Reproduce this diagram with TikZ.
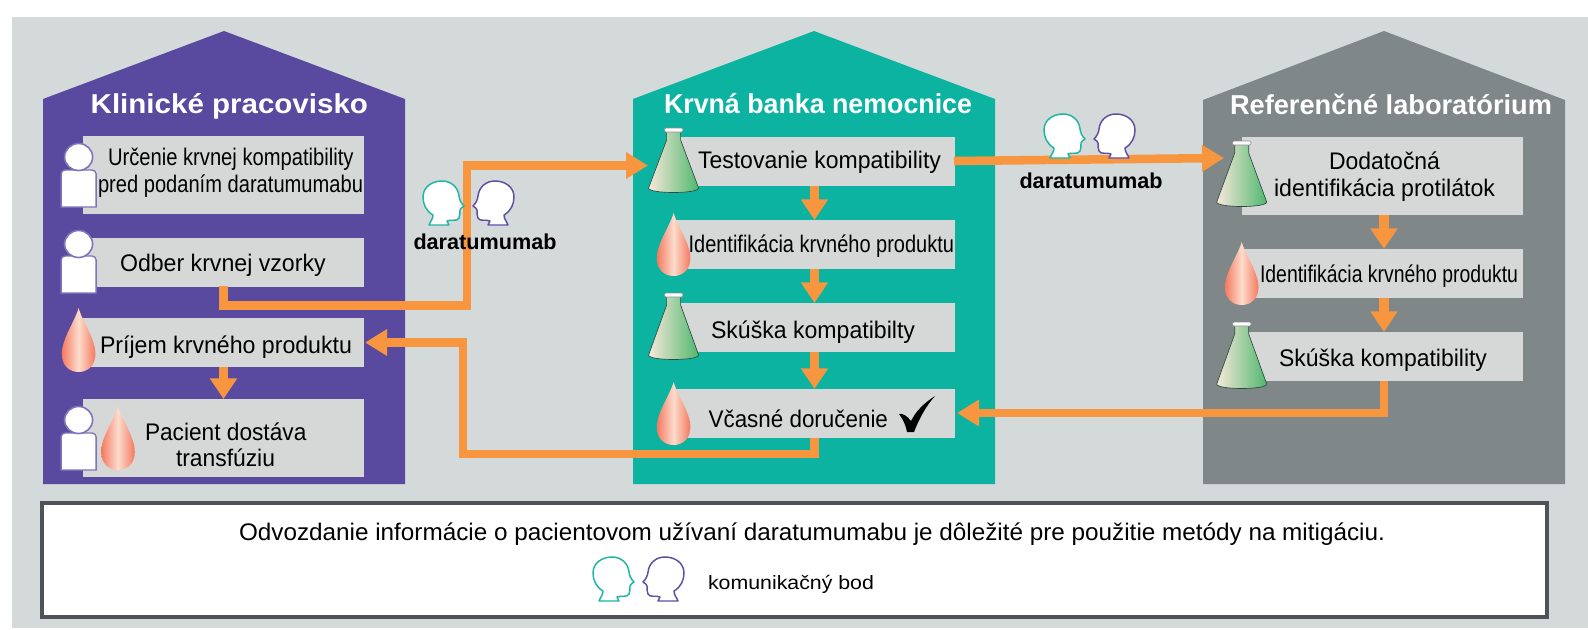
\documentclass[tikz,border=0pt]{standalone}
\usepackage{fontspec}
\usepackage{graphicx}
\setmainfont{Liberation Sans}
\usetikzlibrary{arrows.meta,calc}
\definecolor{bgc}{HTML}{D4D9D9}
\definecolor{boxc}{HTML}{D6D8D8}
\definecolor{purp}{HTML}{5A4A9F}
\definecolor{teal2}{HTML}{0DB3A1}
\definecolor{gry}{HTML}{7F8789}
\definecolor{orng}{HTML}{F8963F}
\definecolor{pline}{HTML}{7F73BA}
\definecolor{hteal}{HTML}{1DB5A3}
\definecolor{hpurp}{HTML}{5F4FA3}
\definecolor{frame}{HTML}{4D5357}
\definecolor{dropa}{HTML}{F4795F}
\definecolor{dropb}{HTML}{FDDCCC}
\definecolor{flg}{HTML}{4FB86E}
\definecolor{flc}{HTML}{F8E8DA}
\definecolor{flo}{HTML}{2F4A40}
\tikzset{
  x=0.75pt,y=-0.75pt,
  boxn/.style={fill=boxc,draw=none,inner sep=0pt,outer sep=0pt,anchor=north west},
  txt/.style={inner sep=0pt,outer sep=0pt,anchor=base,text=black},
  ttl/.style={inner sep=0pt,outer sep=0pt,anchor=base,text=white},
  flow/.style={draw=orng,line width=6.4pt,line join=miter},
  flowa/.style={flow,-{Triangle[length=16.5pt,width=19pt]}},
  flows/.style={flow,line width=6.8pt,-{Triangle[length=15.5pt,width=19.5pt]}},
}
% fit a text to a width in px
\newsavebox{\fitbox}
\newcommand{\fitw}[3]{\sbox{\fitbox}{\fontsize{#2}{#2}\selectfont #3}%
  \pgfmathsetmacro{\fitr}{((#1)*0.75pt)/\wd\fitbox}\scalebox{\fitr}[1]{\usebox{\fitbox}}}
\newcommand{\bx}[5]{\node[boxn,minimum width={(#4-#2)*0.75pt},minimum height={(#5-#3)*0.75pt}] (#1) at (#2,#3) {};}
\newcommand{\lbl}[5]{\node[txt] (#1) at ({(#2+#3)/2},#4) {\fitw{#3-#2}{18pt}{#5}};}
\newcommand{\ttln}[5]{\node[ttl] (#1) at ({(#2+#3)/2},#4) {\fitw{#3-#2}{20.5pt}{\bfseries #5}};}
\newcommand{\housep}[5]{\fill[#1] (#2,484) -- (#2,#5) -- ({(#2+#3)/2},31) -- (#3,#5) -- (#3,484) -- cycle;}
\newcommand{\person}[3]{% cx, circle cy, body top; body bottom = #3+37
  \fill[white,draw=pline,line width=1pt] ({#1-17.5},#3) [rounded corners=3pt] -- ({#1+17.5},#3) [sharp corners] -- ({#1+17.5},#3+37) -- ({#1-17.5},#3+37) [rounded corners=3pt] -- cycle;
  \fill[white,draw=pline,line width=1.2pt] (#1,#2) ellipse [x radius=14,y radius=13.5];}
\newcommand{\drp}[3]{% cx, top, bottom
  \pgfmathsetmacro{\dh}{#3-#2}
  \shade[left color=dropa,right color=dropa,middle color=dropb]
   (#1,#2) .. controls ({#1+4},{#2+0.22*\dh}) and ({#1+16.8},{#2+0.48*\dh}) .. ({#1+16.8},{#2+0.72*\dh})
   .. controls ({#1+16.8},{#2+0.9*\dh}) and ({#1+9},#3) .. (#1,#3)
   .. controls ({#1-9},#3) and ({#1-16.8},{#2+0.9*\dh}) .. ({#1-16.8},{#2+0.72*\dh})
   .. controls ({#1-16.8},{#2+0.48*\dh}) and ({#1-4},{#2+0.22*\dh}) .. (#1,#2) -- cycle;}
\newcommand{\flask}[3]{% cx, top, bottom (68 tall)
  \shadedraw[draw=flo,line width=0.5pt,shading angle=60,left color=flc,right color=flg]
   ({#1-7},#2+3) -- ({#1-7},#2+12) -- ({#1-25},#3-7)
   .. controls ({#1-25},#3-1) and ({#1+25},#3-1) .. ({#1+25},#3-7)
   -- ({#1+7},#2+12) -- ({#1+7},#2+3) -- cycle;
  \fill[white,draw=black!45,line width=0.4pt,rounded corners=1pt] ({#1-9.3},#2) rectangle ({#1+9.3},#2+4);}
\newcommand{\headshape}{(6,44) .. controls (7,41) and (10,38) .. (10,34)
   .. controls (3,30) and (0,23) .. (0,16) .. controls (0,6) and (9,0) .. (19,0)
   .. controls (28,0) and (35,6) .. (36,15) .. controls (36.5,19) and (38,22) .. (41,25)
   .. controls (39,27) and (37,27) .. (37,29) .. controls (37,32) and (37,35) .. (36,37)
   .. controls (34,41) and (28,38) .. (24,40) -- (26,44) -- cycle}
\newcommand{\hdr}[2]{% x, y of left top: facing right, teal
  \begin{scope}[shift={(#1,#2)}]\fill[white,draw=hteal,line width=1.1pt,line join=round] \headshape;\end{scope}}
\newcommand{\hdl}[2]{% x,y of left top: facing left, purple
  \begin{scope}[shift={(#1+41,#2)},xscale=-1]\fill[white,draw=hpurp,line width=1.1pt,line join=round] \headshape;\end{scope}}
\begin{document}
\begin{tikzpicture}
\useasboundingbox (0,0) rectangle (1588,629);
\fill[bgc] (12,17) rectangle (1588,628);
% houses
\housep{purp}{43}{405}{31}{99}
\housep{teal2}{633}{995}{31}{99}
\housep{gry}{1203}{1565}{31}{100}
\ttln{t1}{90.7}{368}{113}{Klinické pracovisko}
\ttln{t2}{664}{972}{113}{Krvná banka nemocnice}
\ttln{t3}{1230}{1552}{114}{Referenčné laboratórium}
% boxes
\bx{a1}{83}{136}{364}{214}
\bx{a2}{83}{238}{364}{287}
\bx{a3}{83}{318}{364}{367}
\bx{a4}{83}{399}{364}{477}
\bx{b1}{674}{137}{955}{186}
\bx{b2}{674}{220}{955}{269}
\bx{b3}{674}{303}{955}{352}
\bx{b4}{674}{389}{955}{438}
\bx{c1}{1242}{137}{1523}{215}
\bx{c2}{1242}{249}{1523}{298}
\bx{c3}{1242}{332}{1523}{381}
% bottom frame
\node[boxn,fill=white,draw=frame,line width=3pt,minimum width={(1547-42)*0.75pt},minimum height={(617-503)*0.75pt}] (note) at (42,503) {};
% connectors
\coordinate (k1) at (466.8,305.7);
\coordinate (k2) at (463,454);
\coordinate (k3) at (1384,381);
\coordinate (k4) at (954,161);
\coordinate (e1) at (648,165.5);
\coordinate (e2) at (1224,158);
\coordinate (e3) at (957,413);
\draw[flowa] ([yshift=0.5pt]a2.south) |- (k1) |- (e1);
\draw[flowa] (b4.south) |- (k2) |- ([xshift=0.8pt]a3.east);
\draw[flowa] (k4) -- (e2);
\draw[flowa] (k3) |- (e3);
\draw[flows] (a3.south) -- (a4.north);
\draw[flows] (b1.south) -- (b2.north);
\draw[flows] (b2.south) -- (b3.north);
\draw[flows] (b3.south) -- (b4.north);
\draw[flows] ([xshift=1.1pt]c1.south) -- ([xshift=1.1pt]c2.north);
\draw[flows] ([xshift=1.1pt]c2.south) -- ([xshift=1.1pt]c3.north);
% icons
\person{78.6}{157}{170}
\person{78.6}{244}{256}
\person{78.6}{420}{433}
\drp{78.6}{308}{372}
\drp{118}{406}{470}
\flask{673.6}{128}{195}
\drp{673.6}{213}{276}
\flask{673.6}{293}{362}
\drp{673.6}{382}{445}
\flask{1241.7}{141}{209}
\drp{1241.7}{242}{305}
\flask{1241.7}{322}{391}
% heads
\hdr{423}{181}\hdl{473}{181}
\hdr{1044}{114}\hdl{1094}{114}
\hdr{593}{557}\hdl{643}{557}
% labels
\node[txt] (d1) at (485,249) {\fitw{143}{16.2pt}{\bfseries daratumumab}};
\node[txt] (d2) at (1091,188) {\fitw{143}{16.2pt}{\bfseries daratumumab}};
\lbl{l1}{108}{353.6}{165}{Určenie krvnej kompatibility}
\lbl{l2}{98}{363}{192}{pred podaním daratumumabu}
\lbl{l3}{120}{325.7}{271}{Odber krvnej vzorky}
\lbl{l4}{100}{352}{353}{Príjem krvného produktu}
\lbl{l5}{145}{306.4}{440}{Pacient dostáva}
\lbl{l6}{176}{275}{466}{transfúziu}
\lbl{m1}{698}{941}{168}{Testovanie kompatibility}
\lbl{m2}{688.6}{954}{252}{Identifikácia krvného produktu}
\lbl{m3}{711}{915}{338}{Skúška kompatibilty}
\lbl{m4}{708.6}{888}{427}{Včasné doručenie}
\fill[black] (899,414) .. controls (903,413) and (907,416) .. (911,421)
  .. controls (916,411) and (924,403) .. (935,396)
  .. controls (926,406) and (919,419) .. (914,432)
  -- (907,432) .. controls (906,426) and (903,419) .. (899,414) -- cycle;
\lbl{r1}{1329}{1440}{169}{Dodatočná}
\lbl{r2}{1274}{1495}{196}{identifikácia protilátok}
\lbl{r3}{1260}{1518}{282}{Identifikácia krvného produktu}
\lbl{r4}{1279}{1487}{366}{Skúška kompatibility}
\lbl{n1}{239}{1385}{540}{Odvozdanie informácie o pacientovom užívaní daratumumabu je dôležité pre použitie metódy na mitigáciu.}
\node[txt] (n2) at (791,589) {\fitw{166}{14.5pt}{komunikačný bod}};
\end{tikzpicture}
\end{document}
